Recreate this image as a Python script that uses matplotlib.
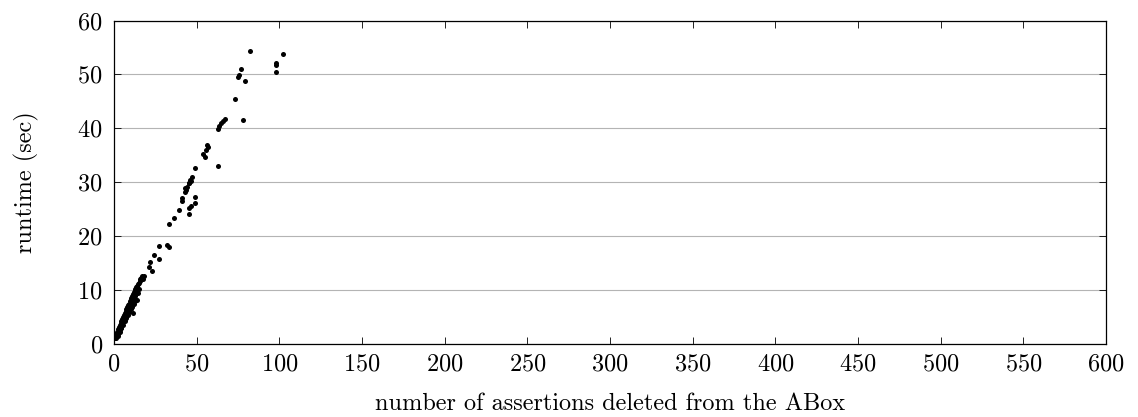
import matplotlib
matplotlib.use("Agg")
import matplotlib.pyplot as plt

plt.rcParams["font.family"] = ["cmr10", "DejaVu Serif"]
plt.rcParams["axes.formatter.use_mathtext"] = True
plt.rcParams["mathtext.fontset"] = "cm"

# Number of ABox assertions deleted vs. runtime in seconds
deleted = [
    0.5, 1.0, 1.5, 2.0, 2.5, 3.0, 3.5, 4.0, 4.5, 5.0, 5.5, 6.0, 6.5, 7.0, 7.5,
    8.0, 8.5, 9.0, 9.5, 10.0, 10.5, 11.0, 11.5, 12.0, 12.5, 13.0, 13.5, 14.0,
    14.5, 15.0, 15.5, 16.0, 16.5, 17.0,
    1.5, 2.0, 2.5, 3.0, 3.5, 4.0, 4.5, 5.0, 5.5, 6.0, 6.5, 7.0, 7.5, 8.0, 8.5,
    9.0, 9.5, 10.0, 10.5, 11.0, 11.5, 12.0, 12.5, 13.0, 13.5, 14.0,
    2.5, 3.5, 4.5, 5.5, 6.5, 7.5, 8.5, 9.0, 10.0, 11.0, 11.7, 12.0, 13.0,
    13.7, 14.5, 15.0,
    17.4, 18.0, 21.0, 23.0, 22.0, 24.0, 27.0, 27.0, 32.1, 33.5, 33.1, 36.1,
    39.1, 45.2, 45.6, 46.4, 49.2, 49.2, 41.0, 41.1,
    43.0, 43.6, 44.3, 45.6, 46.4, 47.0, 46.0, 45.2, 42.8,
    49.2, 54.0, 55.2, 55.6, 56.5, 56.9, 62.9, 62.9, 63.7, 64.5, 65.8, 67.2,
    73.0, 75.0, 75.8, 77.0, 78.0, 79.0, 82.1, 98.0, 98.0, 98.0, 102.0,
]
runtime = [
    1.2, 1.5, 1.9, 2.3, 2.7, 3.1, 3.5, 3.9, 4.3, 4.7, 5.0, 5.4, 5.8, 6.1, 6.5,
    6.8, 7.2, 7.5, 7.9, 8.2, 8.6, 8.9, 9.3, 9.6, 9.9, 10.2, 10.5, 10.8,
    11.1, 11.4, 11.7, 12.0, 12.3, 12.6,
    1.2, 1.6, 1.9, 2.3, 2.6, 3.0, 3.3, 3.7, 4.0, 4.4, 4.7, 5.1, 5.4, 5.8, 6.1,
    6.5, 6.8, 7.2, 7.5, 7.9, 8.2, 8.6, 8.9, 9.3, 9.6, 10.0,
    1.5, 2.2, 2.9, 3.6, 4.2, 4.8, 5.4, 5.9, 6.4, 6.9, 5.7, 7.5, 8.0,
    8.1, 9.4, 10.2,
    12.1, 12.6, 14.3, 13.6, 15.2, 16.5, 18.2, 15.7, 18.3, 17.9, 22.2, 23.3,
    24.9, 24.1, 25.3, 25.6, 26.1, 27.2, 27.0, 26.5,
    28.1, 28.6, 29.1, 29.8, 30.2, 31.0, 30.4, 29.9, 28.9,
    32.6, 35.2, 34.6, 36.0, 37.0, 36.5, 33.0, 39.8, 40.4, 40.9, 41.3, 41.7,
    45.4, 49.5, 49.9, 51.0, 41.5, 48.8, 54.4, 50.4, 51.8, 52.2, 53.8,
]

x_ticks = [0, 50, 100, 150, 200, 250, 300, 350, 400, 450, 500, 550, 600]
y_ticks = [0, 10, 20, 30, 40, 50, 60]

fig = plt.figure(figsize=(11.38, 4.17), dpi=100)
ax = fig.add_axes([114 / 1138, 73 / 417, 992 / 1138, 323.5 / 417])

ax.scatter(deleted, runtime, s=13, color="black", linewidths=0, zorder=3)

ax.set_xlim(0, 600)
ax.set_ylim(0, 60)
ax.set_xticks(x_ticks)
ax.set_yticks(y_ticks)
ax.yaxis.grid(True, color="#b4b4b4", linewidth=0.8)
ax.set_axisbelow(True)

ax.tick_params(axis="both", direction="in", length=5, width=0.6,
               labelsize=17.5, colors="black", top=True, right=True)
ax.tick_params(axis="x", pad=7)
ax.tick_params(axis="y", pad=8)
for sp in ax.spines.values():
    sp.set_linewidth(0.9)

ax.set_xlabel("number of assertions deleted from the ABox", fontsize=17.5,
              labelpad=12)
ax.set_ylabel("runtime (sec)", fontsize=17.5, labelpad=28)

fig.savefig("out.png", dpi=100)
